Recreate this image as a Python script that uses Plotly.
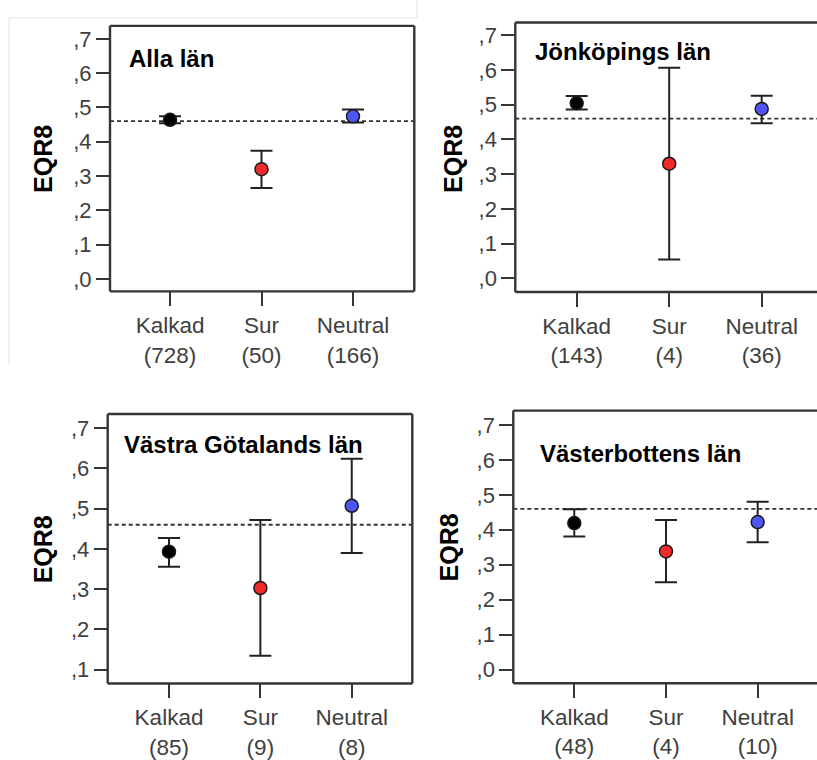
import plotly.graph_objects as go

# ---- data -------------------------------------------------------------
categories = ["Kalkad", "Sur", "Neutral"]
panel_titles = ["Alla län", "Jönköpings län", "Västra Götalands län", "Västerbottens län"]

counts_alla = [728, 50, 166]
counts_jonkoping = [143, 4, 36]
counts_vgotaland = [85, 9, 8]
counts_vasterbotten = [48, 4, 10]

mean_alla = [0.464, 0.320, 0.474]
low_alla = [0.454, 0.265, 0.456]
high_alla = [0.474, 0.374, 0.494]

mean_jonkoping = [0.505, 0.330, 0.488]
low_jonkoping = [0.486, 0.054, 0.447]
high_jonkoping = [0.525, 0.607, 0.526]

mean_vgotaland = [0.393, 0.303, 0.507]
low_vgotaland = [0.356, 0.135, 0.390]
high_vgotaland = [0.427, 0.472, 0.624]

mean_vasterbotten = [0.419, 0.338, 0.422]
low_vasterbotten = [0.381, 0.250, 0.364]
high_vasterbotten = [0.459, 0.428, 0.480]

reference_eqr = 0.46

# ---- layout geometry (pixels) -----------------------------------------
W, H = 817, 760
# (left, right, top, bottom) of each plot frame, x range, y range, y ticks
panels = [
    dict(box=(110, 414.3, 26, 293.3), xr=(-0.656, 2.670), yr=(-0.0365, 0.738),
         yt=[0, .1, .2, .3, .4, .5, .6, .7], right=True,
         title=(127, 59), ytitle=(43, 160)),
    dict(box=(515.3, 817, 22.7, 294), xr=(-0.664, 2.598), yr=(-0.040, 0.737),
         yt=[0, .1, .2, .3, .4, .5, .6, .7], right=False,
         title=(533, 52), ytitle=(453, 160)),
    dict(box=(107.7, 412.3, 416.7, 688), xr=(-0.671, 2.663), yr=(0.066, 0.735),
         yt=[.1, .2, .3, .4, .5, .6, .7], right=True,
         title=(122, 447), ytitle=(43, 553)),
    dict(box=(513.3, 817, 413.3, 687.7), xr=(-0.665, 2.647), yr=(-0.039, 0.741),
         yt=[0, .1, .2, .3, .4, .5, .6, .7], right=False,
         title=(538, 456), ytitle=(449, 551)),
]

series = [
    (counts_alla, mean_alla, low_alla, high_alla),
    (counts_jonkoping, mean_jonkoping, low_jonkoping, high_jonkoping),
    (counts_vgotaland, mean_vgotaland, low_vgotaland, high_vgotaland),
    (counts_vasterbotten, mean_vasterbotten, low_vasterbotten, high_vasterbotten),
]

marker_colors = ["#000000", "#f02a2a", "#4f55f0"]
FRAME = "#353535"
FONT = "Liberation Sans, Arial, sans-serif"

fig = go.Figure()
layout = dict(
    width=W, height=H, margin=dict(l=0, r=0, t=0, b=0),
    paper_bgcolor="white", plot_bgcolor="white", showlegend=False,
)
shapes, annotations = [], []


def fx(px):
    return px / W


def fy(py):
    return 1 - py / H


def ytick_label(v):
    return "," + str(int(round(v * 10)))


for i, (p, (cnt, mean, low, high)) in enumerate(zip(panels, series)):
    n = "" if i == 0 else str(i + 1)
    xa, ya = "x" + n, "y" + n
    l, r, t, b = p["box"]

    fig.add_trace(go.Scatter(
        x=list(range(len(categories))), y=mean, xaxis=xa, yaxis=ya,
        mode="markers",
        marker=dict(size=13, color=marker_colors,
                    line=dict(color="#1a1a1a", width=1.5)),
        error_y=dict(type="data", symmetric=False,
                     array=[h - m for h, m in zip(high, mean)],
                     arrayminus=[m - lo for m, lo in zip(mean, low)],
                     color="#222222", thickness=2, width=11),
        hoverinfo="skip",
    ))

    layout["xaxis" + n] = dict(
        domain=[fx(l), min(fx(r), 1)], range=list(p["xr"]), anchor=ya,
        tickmode="array", tickvals=[0, 1, 2],
        ticktext=[f"{c}<br>({k})" for c, k in zip(categories, cnt)],
        ticks="outside", ticklen=14, tickwidth=2, tickcolor=FRAME,
        tickfont=dict(family=FONT, size=22.5, color="#404040"),
        showgrid=False, zeroline=False, showline=False, fixedrange=True,
    )
    layout["yaxis" + n] = dict(
        domain=[fy(b), fy(t)], range=list(p["yr"]), anchor=xa,
        tickmode="array", tickvals=p["yt"],
        ticktext=[ytick_label(v) for v in p["yt"]],
        ticks="outside", ticklen=13, tickwidth=2, tickcolor=FRAME,
        tickfont=dict(family=FONT, size=22, color="#404040"),
        showgrid=False, zeroline=False, showline=False, fixedrange=True,
    )

    xd, yd = xa + " domain", ya + " domain"
    # frame
    frame_sides = [(0, 0, 0, 1), (0, 1, 1, 1), (0, 1, 0, 0)]
    if p["right"]:
        frame_sides.append((1, 1, 0, 1))
    for x0, x1, y0, y1 in frame_sides:
        shapes.append(dict(type="line", xref=xd, yref=yd, x0=x0, x1=x1, y0=y0, y1=y1,
                           line=dict(color=FRAME, width=2.4), layer="above"))
    # reference line
    shapes.append(dict(type="line", xref=xd, yref=ya, x0=0, x1=1,
                       y0=reference_eqr, y1=reference_eqr,
                       line=dict(color="#333333", width=1.8, dash="4px,3px"),
                       layer="below"))

    annotations.append(dict(
        text="<b>" + panel_titles[i] + "</b>", xref="paper", yref="paper",
        x=fx(p["title"][0]), y=fy(p["title"][1]), xanchor="left", yanchor="middle",
        showarrow=False, font=dict(family=FONT, size=24, color="#000000"),
    ))
    annotations.append(dict(
        text="<b>EQR8</b>", xref="paper", yref="paper",
        x=fx(p["ytitle"][0]), y=fy(p["ytitle"][1]), xanchor="center", yanchor="middle",
        textangle=-90, showarrow=False, font=dict(family=FONT, size=25, color="#000000"),
    ))

# faint border of the pasted top-left chart
for x0, y0, x1, y1 in [(9, 18, 417, 18), (9, 18, 9, 368), (417, 0, 417, 18)]:
    shapes.append(dict(type="line", xref="paper", yref="paper",
                       x0=fx(x0), x1=fx(x1), y0=fy(y0), y1=fy(y1),
                       line=dict(color="#e4e4e4", width=1)))

layout["shapes"] = shapes
layout["annotations"] = annotations
fig.update_layout(**layout)
fig.write_html("out.html")
